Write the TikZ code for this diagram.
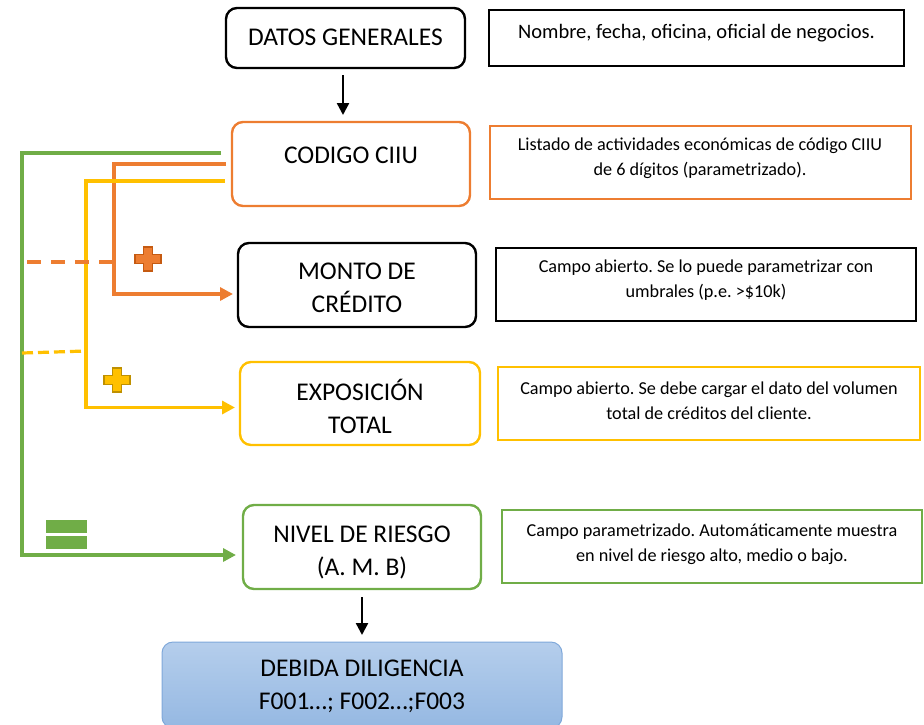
\documentclass[tikz,border=0pt]{standalone}
\usepackage{fontspec}
\setmainfont{Carlito}
\frenchspacing
\usetikzlibrary{arrows.meta,calc}
\definecolor{cor}{HTML}{ED7D31}
\definecolor{cordark}{HTML}{C55A11}
\definecolor{cyel}{HTML}{FFC000}
\definecolor{cyeldark}{HTML}{BF9000}
\definecolor{cgreen}{HTML}{70AD47}
\definecolor{dbtop}{HTML}{B5CEEC}
\definecolor{dbbot}{HTML}{95B8E2}
\definecolor{dbborder}{HTML}{7FA8DA}
\begin{document}
\begin{tikzpicture}[x=1pt,y=-1pt,
  mainbox/.style={draw, line width=2.4pt, rounded corners=11pt, inner sep=0pt, outer sep=0pt},
  infobox/.style={draw, line width=1.8pt, inner sep=0pt, outer sep=0pt},
  bigtxt/.style={font=\fontsize{25.5}{33}\selectfont, align=center, inner sep=0pt},
  smalltxt/.style={font=\fontsize{18.2}{25}\selectfont, align=center, inner sep=0pt},
  conn/.style={line width=3.2pt},
  tip/.style={-{Triangle[length=13pt,width=13pt]}},
  btip/.style={-{Triangle[length=12pt,width=12pt]}}
]
\useasboundingbox (0,0) rectangle (924,724);

% main boxes
\node[mainbox, minimum width=239pt, minimum height=60pt] (datos) at (345.5,38) {};
\node[bigtxt] (tdatos) at (345.5,37) {DATOS GENERALES};

\node[mainbox, draw=cor, minimum width=238pt, minimum height=84pt] (codigo) at (351,164) {};
\node[bigtxt] (tcodigo) at (351,155) {CODIGO CIIU};

\node[mainbox, minimum width=238pt, minimum height=84pt] (monto) at (357,285) {};
\node[bigtxt] (tmonto) at (357,288) {MONTO DE\\CRÉDITO};

\node[mainbox, draw=cyel, minimum width=240pt, minimum height=83pt] (expo) at (360,403.5) {};
\node[bigtxt] (texpo) at (360,406) {EXPOSICIÓN\\TOTAL};

\node[mainbox, draw=cgreen, minimum width=238pt, minimum height=84pt] (nivel) at (362,547) {};
\node[bigtxt] (tnivel) at (362,552) {NIVEL DE RIESGO\\(A. M. B)};

\node[rounded corners=11pt, top color=dbtop, bottom color=dbbot, draw=dbborder, line width=1pt,
      minimum width=400pt, minimum height=86pt, inner sep=0pt, outer sep=0pt] (debida) at (362,685) {};
\node[bigtxt] (tdebida) at (362,686) {DEBIDA DILIGENCIA\\F001…; F002…;F003};

% info boxes
\node[infobox, minimum width=415pt, minimum height=56pt] (r1) at (696.5,38) {};
\node[smalltxt, font=\fontsize{20.5}{25}\selectfont] (tr1) at (696.5,33) {Nombre, fecha, oficina, oficial de negocios.};

\node[infobox, draw=cor, minimum width=421pt, minimum height=73pt] (r2) at (700.5,162.5) {};
\node[smalltxt] (tr2) at (700,158) {Listado de actividades económicas de código CIIU\\de 6 dígitos (parametrizado).};

\node[infobox, minimum width=420pt, minimum height=73pt] (r3) at (706,284.5) {};
\node[smalltxt] (tr3) at (706,280) {Campo abierto. Se lo puede parametrizar con\\umbrales (p.e. >\$10k)};

\node[infobox, draw=cyel, minimum width=422pt, minimum height=73pt] (r4) at (709,403.5) {};
\node[smalltxt] (tr4) at (709,401) {Campo abierto. Se debe cargar el dato del volumen\\total de créditos del cliente.};

\node[infobox, draw=cgreen, minimum width=420pt, minimum height=73pt] (r5) at (712,546.5) {};
\node[smalltxt] (tr5) at (712,544) {Campo parametrizado. Automáticamente muestra\\en nivel de riesgo alto, medio o bajo.};

% black arrows
\draw[line width=2.4pt, btip] ($(datos.south)+(-2.5,7)$) -- ($(codigo.north)+(-8,-7)$);
\draw[line width=2.4pt, btip] ($(nivel.south)+(0,8)$) -- ($(debida.north)+(0,-7)$);

% coloured connectors
\draw[conn, cgreen, tip] ($(codigo.west)+(-11,-11)$) -- ++(-199,0) |- ($(nivel.west)+(-7,8)$);
\draw[conn, cor, tip] ($(codigo.west)+(-6,0)$) -- ++(-112,0) |- ($(monto.west)+(-5,9)$);
\draw[conn, cyel, tip] ($(codigo.west)+(-7,17)$) -- ++(-139,0) |- ($(expo.west)+(-5,4)$);

% dashed links
\coordinate (od1) at (27,262);
\coordinate (od2) at (114,262);
\draw[conn, cor, dash pattern=on 14pt off 10pt] (od1) -- (od2);
\coordinate (yd1) at (22,353);
\coordinate (yd2) at (86,351);
\draw[conn, cyel, dash pattern=on 11pt off 5pt] (yd1) -- (yd2);

% plus signs
\begin{scope}[shift={(148,259)}]
\draw[fill=cor, draw=cordark, line width=1.2pt]
  (-4.5,-12)--(4.5,-12)--(4.5,-4.5)--(13,-4.5)--(13,4.5)--(4.5,4.5)--(4.5,12)--(-4.5,12)--(-4.5,4.5)--(-13,4.5)--(-13,-4.5)--(-4.5,-4.5)--cycle;
\end{scope}
\begin{scope}[shift={(117,380)}]
\draw[fill=cyel, draw=cyeldark, line width=1.2pt]
  (-4.5,-12)--(4.5,-12)--(4.5,-4.5)--(13,-4.5)--(13,4.5)--(4.5,4.5)--(4.5,12)--(-4.5,12)--(-4.5,4.5)--(-13,4.5)--(-13,-4.5)--(-4.5,-4.5)--cycle;
\end{scope}

% equals sign
\fill[cgreen] (46,520) rectangle (87,533);
\fill[cgreen] (46,536) rectangle (87,549);
\end{tikzpicture}
\end{document}
